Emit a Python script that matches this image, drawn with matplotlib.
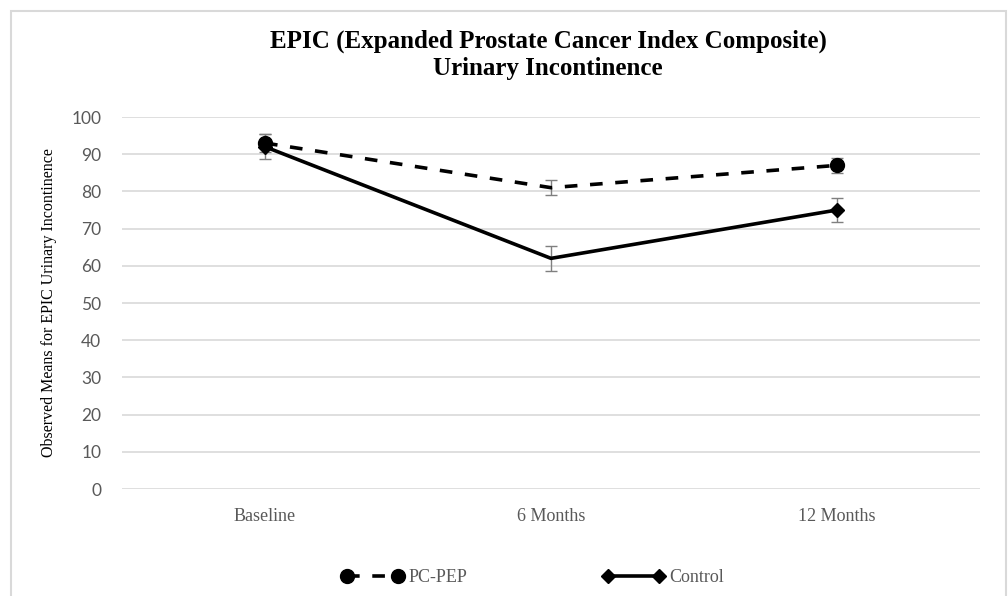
#!/usr/bin/env python3

import numpy as np
import matplotlib
matplotlib.use('Agg')
import matplotlib.pyplot as plt
from matplotlib.patches import Rectangle
from matplotlib.lines import Line2D

### Data
categories = ['Baseline', '6 Months', '12 Months']
pcpep_mean = [93, 81, 87]
pcpep_err = [2.5, 2.0, 2.0]
control_mean = [92, 62, 75]
control_err = [3.3, 3.3, 3.3]
yticks = np.arange(0, 101, 10)

### Plot settings
serif = 'Liberation Serif'
sans = 'Lato'
gray_txt = '#595959'
grid_c = '#d9d9d9'
err_c = '#7f7f7f'
dash = (0, (3.5, 3.5))
lw = 2.6

fig = plt.figure(figsize=[10.08, 5.96], dpi=100)
ax = fig.add_axes([122/1008, 1-489/596, (980-122)/1008, (489-117)/596])

x = np.arange(len(categories))
mk = [0, 2]   # the middle point carries no marker in the original

ax.errorbar(x, pcpep_mean, yerr=pcpep_err, fmt='none', ecolor=err_c, elinewidth=1, capsize=4, capthick=1, zorder=3)
ax.errorbar(x, control_mean, yerr=control_err, fmt='none', ecolor=err_c, elinewidth=1, capsize=4, capthick=1, zorder=3)

ax.plot(x, pcpep_mean, color='k', lw=lw, ls=dash, zorder=5)
ax.plot(x, control_mean, color='k', lw=lw, ls='-', zorder=4)
ax.plot(x[mk], np.array(pcpep_mean)[mk], ls='none', marker='o', ms=10, color='k', zorder=6)
ax.plot(x[mk], np.array(control_mean)[mk], ls='none', marker='D', ms=7, color='k', zorder=5)

ax.set_xlim(-0.5, len(categories)-0.5)
ax.set_ylim(0, 100)
ax.set_yticks(yticks)
ax.set_xticks(x)
ax.set_xticklabels(categories, fontfamily=serif, fontsize=13, color=gray_txt)
for lab in ax.get_yticklabels():
    lab.set_fontfamily(sans)
    lab.set_fontsize(12.5)
    lab.set_color(gray_txt)
ax.tick_params(axis='both', length=0)
ax.tick_params(axis='x', pad=14)
ax.tick_params(axis='y', pad=15)
ax.grid(True, axis='y', color=grid_c, lw=1.2)
ax.set_axisbelow(True)
for s in ax.spines.values():
    s.set_visible(False)

ax.set_ylabel('Observed Means for EPIC Urinary Incontinence', fontfamily=serif, fontsize=11.5, color='k', labelpad=10)

fig.text(548/1008, 1-41/596, 'EPIC (Expanded Prostate Cancer Index Composite)', ha='center', va='center',
         fontfamily=serif, fontweight='bold', fontsize=18)
fig.text(548/1008, 1-68/596, 'Urinary Incontinence', ha='center', va='center',
         fontfamily=serif, fontweight='bold', fontsize=18)

handles = [Line2D([], [], color='k', lw=lw, ls=dash, marker='o', ms=10),
           Line2D([], [], color='k', lw=lw, ls='-', marker='D', ms=7)]
leg = fig.legend(handles, ['PC-PEP', 'Control'], loc='center', bbox_to_anchor=(533/1008, 1-578/596), ncol=2,
                 frameon=False, prop={'family': serif, 'size': 13}, handlelength=3.4, handletextpad=0.3,
                 columnspacing=7.5, numpoints=2)
for t in leg.get_texts():
    t.set_color(gray_txt)

# chart area border
fig.patches.append(Rectangle((11/1008, -0.05), (1006-11)/1008, 1.05-11/596, transform=fig.transFigure,
                             fill=False, edgecolor=grid_c, lw=1.5))

plt.savefig('out.png', dpi=100)
